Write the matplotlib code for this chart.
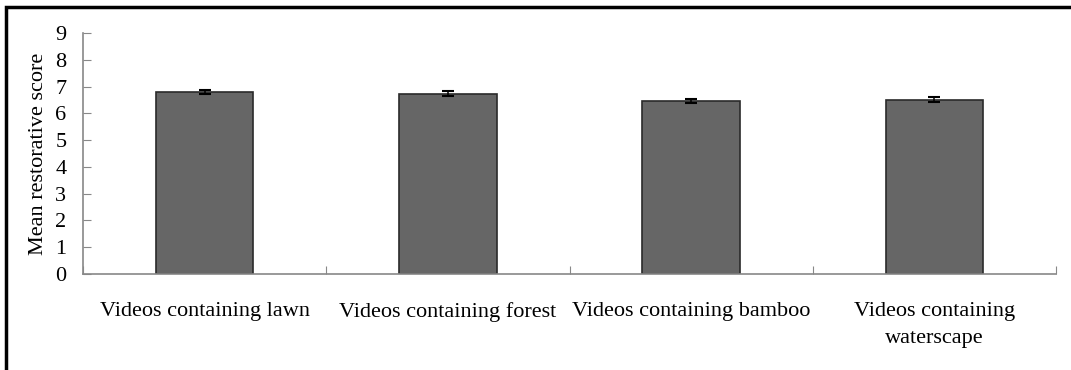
import numpy as np
import matplotlib.pyplot as plt
from matplotlib.patches import Rectangle

categories = ['Videos containing lawn', 'Videos containing forest',
              'Videos containing bamboo', 'Videos containing\nwaterscape']
means = [6.80, 6.74, 6.46, 6.51]
errors = [0.09, 0.09, 0.09, 0.09]

plt.rcParams['font.family'] = ['Liberation Serif', 'DejaVu Serif']

fig = plt.figure(figsize=(10.71, 3.70), dpi=100)
ax = fig.add_axes([83 / 1071, 96 / 370, (1056 - 83) / 1071, (274 - 33) / 370])

x = np.arange(len(categories))
ax.bar(x, means, width=0.4, color='#666666', edgecolor='#2a2a2a', lw=1.2,
       yerr=errors, capsize=4, error_kw=dict(ecolor='black', elinewidth=1.1, capthick=1.5))

ax.set_xlim(-0.5, len(categories) - 0.5)
ax.set_ylim(0, 9)
ax.set_yticks(range(10))
ax.set_ylabel('Mean restorative score', fontsize=16, labelpad=5)

# boundaries get the small upward ticks, centres carry the labels
ax.set_xticks(np.arange(-0.5, len(categories), 1.0))
ax.set_xticklabels([])
ax.set_xticks(x, minor=True)
ax.set_xticklabels(categories, minor=True, fontsize=16, linespacing=1.6)
ax.tick_params(axis='x', which='major', direction='in', length=6, color='#888888')
ax.tick_params(axis='x', which='minor', length=0, pad=20)
ax.tick_params(axis='y', direction='in', length=6, color='#888888', labelsize=16, pad=12)

for s in ['top', 'right']:
    ax.spines[s].set_visible(False)
for s in ['left', 'bottom']:
    ax.spines[s].set_color('#888888')
    ax.spines[s].set_linewidth(1.2)

# outer frame of the original figure (cut off on right and bottom)
fig.patches.append(Rectangle((6 / 1071, -0.1), 1.2, 1.08,
                             transform=fig.transFigure, fill=False,
                             edgecolor='black', lw=2.5))

fig.savefig('out.png', dpi=100)
